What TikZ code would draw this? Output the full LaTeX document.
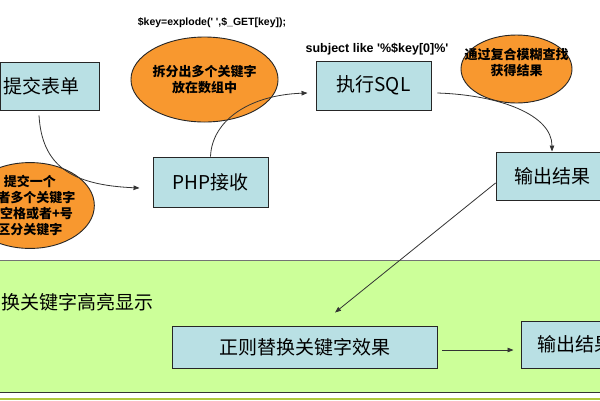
\documentclass[tikz,border=0pt]{standalone}
\usepackage{fontspec}
\newfontfamily\cjk{Noto Sans CJK SC}
\newfontfamily\lsans{Liberation Sans}[Ligatures=TeXOff]
\usetikzlibrary{shapes.geometric,arrows.meta}
\definecolor{boxblue}{HTML}{B9E0E4}
\definecolor{orng}{HTML}{F8982F}
\definecolor{bandgreen}{HTML}{CCFF99}
\definecolor{bandline}{HTML}{AFC83A}
\tikzset{
  box/.style={draw=black!85, fill=boxblue, line width=0.9pt, inner sep=0pt, font=\cjk\fontsize{19}{21}\selectfont},
  boxtext/.style={inner sep=0pt, font=\cjk\fontsize{19}{21}\selectfont},
  oval/.style={ellipse, draw=black!85, fill=orng, line width=0.9pt, inner sep=0pt, align=center, font=\cjk\bfseries\fontsize{13}{16}\selectfont},
  ovaltext/.style={inner sep=0pt, align=center, font=\cjk\bfseries\fontsize{13}{15.5}\selectfont},
  code/.style={inner sep=0pt, font=\lsans\bfseries\fontsize{10.5}{12}\selectfont},
  conn/.style={draw=black!80, line width=0.8pt, -{Triangle[length=6pt,width=4.5pt]}},
}
\begin{document}
\begin{tikzpicture}[x=1pt,y=-1pt]
\useasboundingbox (0,0) rectangle (600,400);
\clip (0,0) rectangle (600,400);
\fill[white] (0,0) rectangle (600,400);
% band
\fill[bandgreen] (0,260) rectangle (600,392);
\draw[black!55, line width=1.2pt] (0,260.5) -- (600,260.5);
\draw[black!80, line width=1pt] (0,392) -- (600,392);
\draw[bandline, line width=1.2pt] (0,399) -- (600,399);
\node[boxtext, anchor=west] (hl) at (1,302) {换关键字高亮显示};
% code labels
\node[code] (c1) at (212,23) {\$key=explode(' ',\$\_GET[key]);};
\node[code, font=\lsans\bfseries\fontsize{12.5}{14}\selectfont] (c2) at (377,49) {subject like '\%\$key[0]\%'};
% boxes
\node[box, minimum width=99pt, minimum height=48pt] (form) at (50,86) {};
\node[boxtext] (formlabel) at (41,86) {提交表单};
\node[box, minimum width=115pt, minimum height=49pt] (sql) at (373.5,85.5) {执行SQL};
\node[box, minimum width=115pt, minimum height=50pt] (php) at (210.5,182) {PHP接收};
\node[box, minimum width=112pt, minimum height=48pt] (out1) at (552,176) {输出结果};
\node[box, minimum width=265pt, minimum height=42pt] (regex) at (304.5,347) {正则替换关键字效果};
\node[box, minimum width=109pt, minimum height=47pt] (out2) at (575.5,344.5) {输出结果};
% ellipses
\node[oval, minimum width=115pt, minimum height=85pt] (split) at (204.5,79.5) {拆分出多个关键字\\放在数组中};
\node[oval, minimum width=111pt, minimum height=68pt] (fuzzy) at (516.5,69) {};
\node[ovaltext] (fuzzylabel) at (516.5,62.5) {通过复合模糊查找\\获得结果};
\node[oval, minimum width=114pt, minimum height=85pt] (keys) at (30,205.5) {提交一个\\或者多个关键字\\用空格或者+号\\区分关键字};
% connectors
\draw[conn] ([xshift=-11pt,yshift=-5pt]form.south) .. controls (42,165) and (70,185) .. ([xshift=-13pt,yshift=-6pt]php.west);
\draw[conn] (php.north) .. controls (212,120) and (250,95) .. ([xshift=-8pt,yshift=-7.5pt]sql.west);
\draw[conn] ([xshift=6pt,yshift=-7.5pt]sql.east) .. controls (500,95) and (552,115) .. (out1.north);
\draw[conn] ([yshift=-7pt]out1.west) -- ([xshift=30.5pt,yshift=13pt]regex.north);
\draw[conn] ([xshift=5pt,yshift=-3pt]regex.east) -- ([xshift=-7pt,yshift=-5.5pt]out2.west);
\end{tikzpicture}
\end{document}
